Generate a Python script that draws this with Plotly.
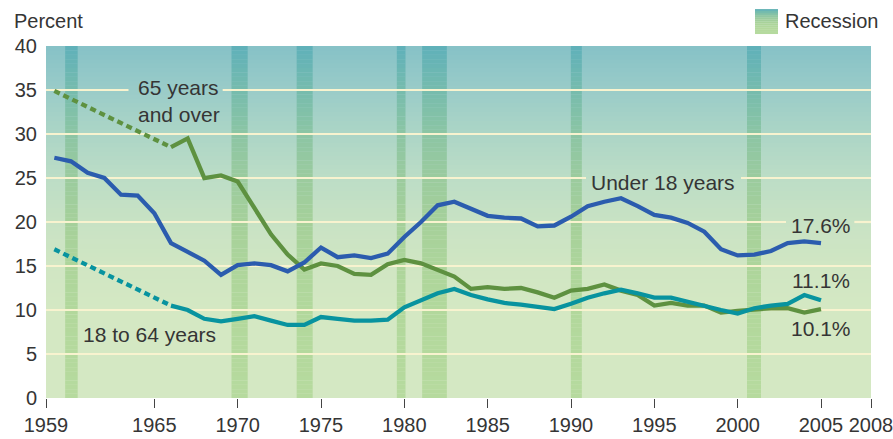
import plotly.graph_objects as go

years = list(range(1966, 2006))
under18_years = list(range(1959, 2006))
under18 = [27.3, 26.9, 25.6, 25.0, 23.1, 23.0, 21.0, 17.6, 16.6, 15.6, 14.0, 15.1, 15.3, 15.1,
           14.4, 15.4, 17.1, 16.0, 16.2, 15.9, 16.4, 18.3, 20.0, 21.9, 22.3, 21.5, 20.7, 20.5,
           20.4, 19.5, 19.6, 20.6, 21.8, 22.3, 22.7, 21.8, 20.8, 20.5, 19.9, 18.9, 16.9, 16.2,
           16.3, 16.7, 17.6, 17.8, 17.6]
over65 = [28.5, 29.5, 25.0, 25.3, 24.6, 21.6, 18.6, 16.3, 14.6, 15.3, 15.0, 14.1, 14.0, 15.2,
          15.7, 15.3, 14.6, 13.8, 12.4, 12.6, 12.4, 12.5, 12.0, 11.4, 12.2, 12.4, 12.9, 12.2,
          11.7, 10.5, 10.8, 10.5, 10.5, 9.7, 9.9, 10.1, 10.2, 10.2, 9.7, 10.1]
adult = [10.5, 10.0, 9.0, 8.7, 9.0, 9.3, 8.8, 8.3, 8.3, 9.2, 9.0, 8.8, 8.8, 8.9,
         10.3, 11.1, 11.9, 12.4, 11.7, 11.2, 10.8, 10.6, 10.4, 10.1, 10.7, 11.4, 11.9, 12.3,
         11.9, 11.4, 11.4, 10.9, 10.5, 10.0, 9.6, 10.2, 10.5, 10.7, 11.7, 11.1]
# dotted early estimates (1959 to 1966)
over65_early_years = [1959, 1966]
over65_early = [34.9, 28.5]
adult_early_years = [1959, 1966]
adult_early = [16.9, 10.5]

recessions = [(1959.65, 1960.4), (1969.63, 1970.6), (1973.54, 1974.5), (1979.55, 1980.07),
              (1981.07, 1982.55), (1989.99, 1990.65), (2000.56, 2001.4)]

x_tickvals = [1958.5, 1965, 1970, 1975, 1980, 1985, 1990, 1995, 2000, 2005, 2008]
x_ticktext = ["1959", "1965", "1970", "1975", "1980", "1985", "1990", "1995", "2000", "2005", "2008"]
y_ticks = [0, 5, 10, 15, 20, 25, 30, 35, 40]

XMIN, XMAX = 1958.5, 2008

BLUE = "#2b5cae"
GREEN = "#5e9140"
TEAL = "#08939f"
TXT = "#353535"
GRID = "#f8f3cf"
FONT = "Liberation Sans"

bg_stops = [(0, (212, 232, 195)), (10, (212, 232, 195)), (15, (208, 230, 195)), (20, (200, 226, 196)),
            (25, (188, 221, 198)), (30, (172, 213, 198)), (35, (154, 204, 200)), (40, (134, 193, 199))]
rec_stops = [(0, (182, 218, 158)), (10, (178, 216, 156)), (15, (173, 213, 155)), (20, (165, 208, 154)),
             (25, (155, 203, 158)), (30, (140, 197, 164)), (35, (118, 188, 173)), (40, (95, 176, 186))]


def interp(stops, v):
    for (a, ca), (b, cb) in zip(stops[:-1], stops[1:]):
        if a <= v <= b:
            t = (v - a) / (b - a)
            c = [round(ca[i] + (cb[i] - ca[i]) * t) for i in range(3)]
            return "rgb(%d,%d,%d)" % tuple(c)
    c = stops[-1][1]
    return "rgb(%d,%d,%d)" % c


shapes = []
step = 0.5
n = int(40 / step)
for i in range(n):
    y0 = i * step
    y1 = min(40, y0 + step + 0.15)
    mid = y0 + step / 2
    shapes.append(dict(type="rect", xref="x", yref="y", x0=XMIN, x1=XMAX, y0=y0, y1=y1,
                       fillcolor=interp(bg_stops, mid), line=dict(width=0), layer="below"))
    for (a, b) in recessions:
        shapes.append(dict(type="rect", xref="x", yref="y", x0=a, x1=b, y0=y0, y1=y1,
                           fillcolor=interp(rec_stops, mid), line=dict(width=0), layer="below"))

# gridlines, interrupted where the labels sit
label_gaps = {35: [(1963.45, 1969.1)], 25: [(1990.9, 2000.2)], 20: [(2002.9, 2007.0)]}
for v in y_ticks[1:-1]:
    segs = []
    start = XMIN
    for (a, b) in label_gaps.get(v, []):
        segs.append((start, a))
        start = b
    segs.append((start, XMAX))
    for (a, b) in segs:
        shapes.append(dict(type="line", xref="x", yref="y", x0=a, x1=b, y0=v, y1=v,
                           line=dict(color=GRID, width=2.2), layer="below"))

# legend swatch (paper coords)
lx0, lx1, ly0, ly1 = 0.8594, 0.8873, 1.034, 1.105
m = 12
for i in range(m):
    t0 = ly0 + (ly1 - ly0) * i / m
    t1 = ly0 + (ly1 - ly0) * (i + 1.1) / m
    shapes.append(dict(type="rect", xref="paper", yref="paper", x0=lx0, x1=lx1, y0=t0, y1=min(t1, ly1),
                       fillcolor=interp(rec_stops, 40 * (i + 0.5) / m), line=dict(width=0)))

fig = go.Figure()
line_w = 4.3
fig.add_trace(go.Scatter(x=over65_early_years, y=over65_early, mode="lines",
                         line=dict(color=GREEN, width=line_w, dash="6px,4px"), hoverinfo="skip"))
fig.add_trace(go.Scatter(x=adult_early_years, y=adult_early, mode="lines",
                         line=dict(color=TEAL, width=line_w, dash="6px,4px"), hoverinfo="skip"))
fig.add_trace(go.Scatter(x=years, y=over65, mode="lines", line=dict(color=GREEN, width=line_w)))
fig.add_trace(go.Scatter(x=years, y=adult, mode="lines", line=dict(color=TEAL, width=line_w)))
fig.add_trace(go.Scatter(x=under18_years, y=under18, mode="lines", line=dict(color=BLUE, width=line_w)))

ann_font = dict(family=FONT, size=21, color=TXT)
small_font = dict(family=FONT, size=20, color=TXT)
annotations = [
    dict(text="Percent", xref="paper", yref="paper", x=-0.0412, y=1.072, xanchor="left",
         yanchor="middle", showarrow=False, font=small_font),
    dict(text="Recession", xref="paper", yref="paper", x=0.893, y=1.072, xanchor="left",
         yanchor="middle", showarrow=False, font=small_font),
    dict(text="65 years<br>and over", x=1966.45, y=33.8, xref="x", yref="y", showarrow=False,
         font=ann_font, align="left"),
    dict(text="Under 18 years", x=1995.5, y=24.45, xref="x", yref="y", showarrow=False,
         font=ann_font),
    dict(text="18 to 64 years", x=1964.7, y=7.2, xref="x", yref="y", showarrow=False,
         font=ann_font),
    dict(text="17.6%", x=2005.0, y=19.55, xref="x", yref="y", showarrow=False, font=ann_font),
    dict(text="11.1%", x=2005.0, y=13.3, xref="x", yref="y", showarrow=False, font=ann_font),
    dict(text="10.1%", x=2005.0, y=7.9, xref="x", yref="y", showarrow=False, font=ann_font),
]

fig.update_layout(
    width=893, height=439,
    margin=dict(l=46, r=22, t=46, b=41, autoexpand=False),
    paper_bgcolor="white", plot_bgcolor="white",
    showlegend=False,
    shapes=shapes,
    annotations=annotations,
    font=dict(family=FONT, size=20, color=TXT),
    xaxis=dict(range=[XMIN, XMAX], tickvals=x_tickvals, ticktext=x_ticktext, showgrid=False,
               zeroline=False, showline=False, ticks="outside", ticklen=9, tickcolor="#444",
               tickwidth=1, tickfont=dict(family=FONT, size=20, color=TXT), fixedrange=True,
               automargin=False, ticklabeloverflow="allow"),
    yaxis=dict(range=[0, 40], tickvals=y_ticks, showgrid=False, zeroline=False, showline=False,
               ticks="", ticklabelstandoff=8, tickfont=dict(family=FONT, size=20, color=TXT),
               fixedrange=True, automargin=False),
)

fig.write_html("out.html", config={"displayModeBar": False},
               post_script="document.body.style.margin='0';document.body.style.overflow='hidden';")
